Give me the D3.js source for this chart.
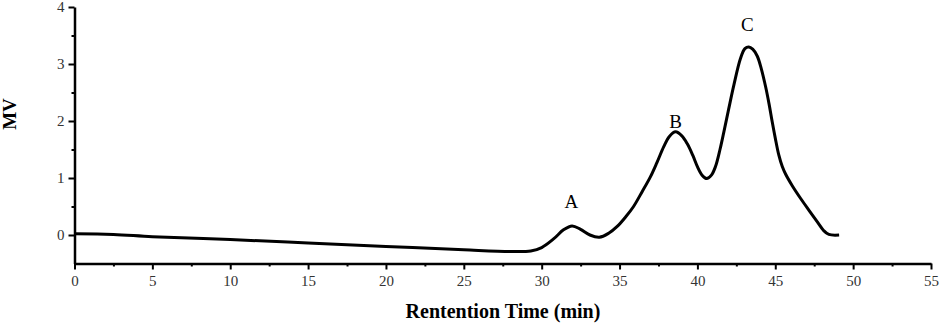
<!DOCTYPE html>
<html>
<head>
<meta charset="utf-8">
<script src="https://cdn.jsdelivr.net/npm/d3@7"></script>
<style>
  body { margin: 0; background: #fff; }
  svg { display: block; }
</style>
</head>
<body>
<div id="chart"></div>
<script>
// retention time (min) and signal (mV)
const times = [0, 2.5, 5, 10, 15, 20, 25, 28, 29.3, 30, 30.8, 31.4, 31.95, 32.5, 33.1, 33.7, 34.3, 34.85, 35.4, 35.9, 36.45, 36.98, 37.4, 37.84, 38.2, 38.6, 39.0, 39.35, 39.7, 40.0, 40.3, 40.6, 40.9, 41.16, 41.45, 41.7, 42.0, 42.34, 42.77, 43.05, 43.3, 43.55, 43.84, 44.1, 44.38, 44.6, 44.8, 45.0, 45.23, 45.45, 45.66, 46.1, 46.63, 47.2, 47.7, 48.1, 48.44, 49.1]
const signal = [0.02, 0.01, -0.03, -0.08, -0.14, -0.2, -0.26, -0.29, -0.28, -0.22, -0.06, 0.09, 0.16, 0.1, 0.0, -0.04, 0.03, 0.15, 0.32, 0.5, 0.76, 1.02, 1.27, 1.55, 1.73, 1.81, 1.74, 1.6, 1.4, 1.2, 1.05, 0.99, 1.05, 1.2, 1.5, 1.81, 2.2, 2.63, 3.1, 3.27, 3.3, 3.26, 3.14, 2.92, 2.6, 2.3, 1.99, 1.7, 1.4, 1.2, 1.07, 0.86, 0.64, 0.42, 0.23, 0.08, 0.01, 0.0]

const peakNames = ["A", "B", "C"]
const peakTimes = [31.9, 38.6, 43.2]
const peakLevels = [0.48, 1.88, 3.58]

const xTicks = [0, 5, 10, 15, 20, 25, 30, 35, 40, 45, 50, 55]
const yTicks = [0, 1, 2, 3, 4]

const width = 941
const height = 324
const serif = "'Liberation Serif', 'Times New Roman', 'DejaVu Serif', serif"

const x = d3.scaleLinear().domain([0, 55]).range([74.5, 931])
const y = d3.scaleLinear().domain([-0.5, 4]).range([263.5, 7])

const svg = d3.select("#chart").append("svg")
    .attr("width", width)
    .attr("height", height)

// x axis with minor ticks
svg.append("g")
    .attr("transform", `translate(0, ${y(-0.5)})`)
    .call(d3.axisBottom(x).tickValues(d3.range(2.5, 55, 5)).tickSize(3).tickFormat(""))
    .call(g => g.select(".domain").remove())
    .selectAll("line").attr("stroke-width", 2)
const xAxis = svg.append("g")
    .attr("transform", `translate(0, ${y(-0.5)})`)
    .call(d3.axisBottom(x).tickValues(xTicks).tickSize(6).tickSizeOuter(0).tickPadding(6))
xAxis.select(".domain").attr("stroke-width", 2.5)
xAxis.selectAll(".tick line").attr("stroke-width", 2)

// y axis with minor ticks
svg.append("g")
    .attr("transform", `translate(${x(0)}, 0)`)
    .call(d3.axisLeft(y).tickValues([0.5, 1.5, 2.5, 3.5]).tickSize(3).tickFormat(""))
    .call(g => g.select(".domain").remove())
    .selectAll("line").attr("stroke-width", 2)
const yAxis = svg.append("g")
    .attr("transform", `translate(${x(0)}, 0)`)
    .call(d3.axisLeft(y).tickValues(yTicks).tickFormat(d3.format("d")).tickSize(6).tickSizeOuter(0).tickPadding(4))
yAxis.select(".domain").attr("stroke-width", 2.5)
yAxis.selectAll(".tick line").attr("stroke-width", 2)

svg.selectAll(".tick text")
    .attr("font-family", serif)
    .attr("font-size", 15)
    .attr("fill", "#333")

svg.append("text")
    .attr("x", 503)
    .attr("y", 318)
    .attr("text-anchor", "middle")
    .attr("font-family", serif)
    .attr("font-weight", "bold")
    .attr("font-size", 20)
    .text("Rentention Time (min)")

svg.append("text")
    .attr("transform", `translate(16, 114) rotate(-90)`)
    .attr("text-anchor", "middle")
    .attr("font-family", serif)
    .attr("font-weight", "bold")
    .attr("font-size", 19)
    .text("MV")

const points = times.map((t, i) => [t, signal[i]])
const line = d3.line()
    .x(d => x(d[0]))
    .y(d => y(d[1]))
    .curve(d3.curveCatmullRom.alpha(0.5))

svg.append("path")
    .datum(points)
    .attr("fill", "none")
    .attr("stroke", "#000")
    .attr("stroke-width", 3)
    .attr("stroke-linejoin", "round")
    .attr("d", line)

svg.selectAll(".peak")
    .data(peakNames)
    .enter().append("text")
    .attr("class", "peak")
    .attr("x", (d, i) => x(peakTimes[i]))
    .attr("y", (d, i) => y(peakLevels[i]))
    .attr("text-anchor", "middle")
    .attr("font-family", serif)
    .attr("font-size", 19)
    .text(d => d)
</script>
</body>
</html>
